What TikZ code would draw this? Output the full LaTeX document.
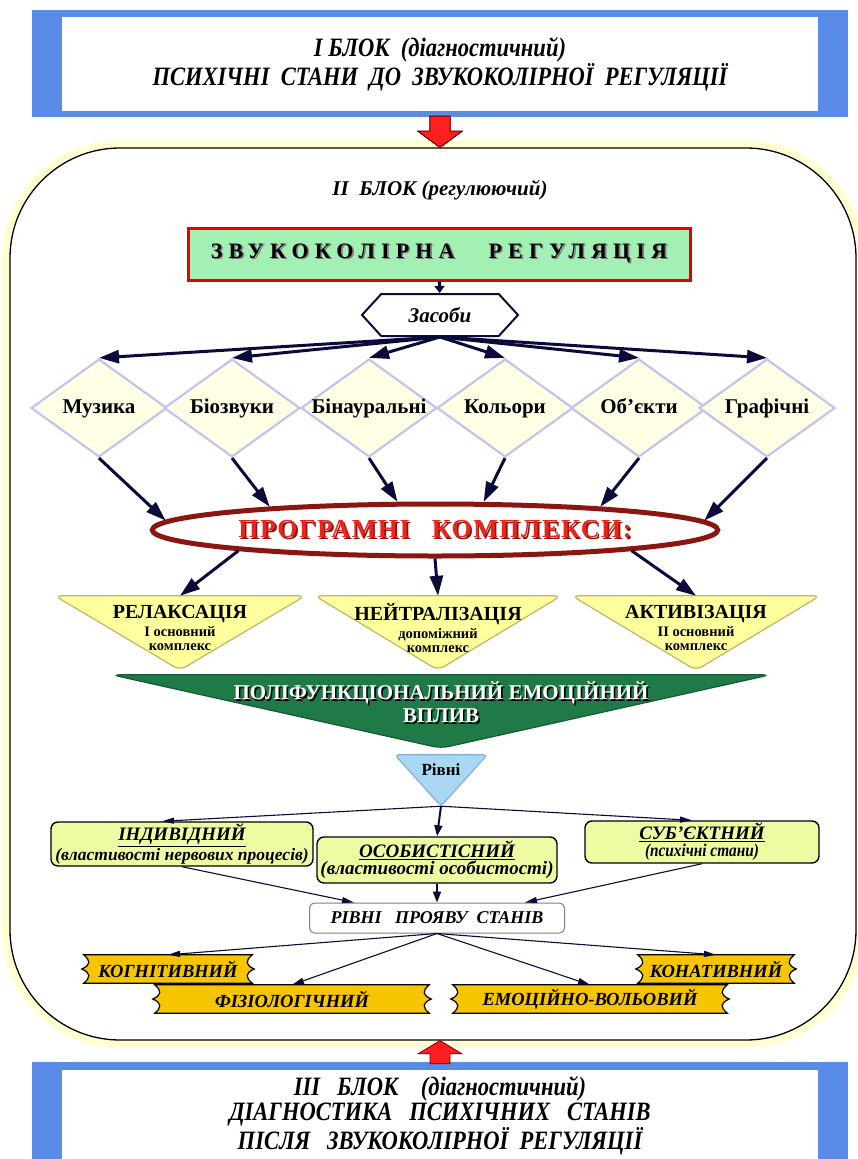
\documentclass[tikz,border=0pt]{standalone}
\usepackage{fontspec}
\setmainfont{Liberation Serif}
\newfontfamily\narrowfont[FakeStretch=0.85]{Liberation Serif}
\newfontfamily\spacedfont[LetterSpace=28]{Liberation Serif}
\newfontfamily\progfont[LetterSpace=6]{Liberation Serif}
\usetikzlibrary{arrows.meta,shapes.geometric,shapes.symbols,calc}

\definecolor{blockblue}{HTML}{5A8BE6}
\definecolor{arrowred}{HTML}{FF1F1F}
\definecolor{arrowedge}{HTML}{7A0000}
\definecolor{glowyellow}{HTML}{FFFFD2}
\definecolor{reggreen}{HTML}{A3F0B5}
\definecolor{regred}{HTML}{E60000}
\definecolor{navy}{HTML}{0B0B3B}
\definecolor{cream}{HTML}{FFFFE6}
\definecolor{lavender}{HTML}{C3C3EE}
\definecolor{darkred}{HTML}{8B1511}
\definecolor{progred}{HTML}{E8261E}
\definecolor{cmplxfill}{HTML}{FFFF9E}
\definecolor{cmplxedge}{HTML}{C2B56A}
\definecolor{polygreen}{HTML}{1F7A48}
\definecolor{polyedge}{HTML}{145A32}
\definecolor{rivblue}{HTML}{A8D8F4}
\definecolor{rivedge}{HTML}{8AAFD0}
\definecolor{lvlgreen}{HTML}{EEFBA3}
\definecolor{scrollgold}{HTML}{F6C500}

\pgfdeclarelayer{frame}
\pgfdeclarelayer{shapes}
\pgfsetlayers{frame,shapes,main}

\newcommand{\shadowed}[3]{\makebox[0pt][l]{\hspace{1.6pt}\raisebox{-1.6pt}{\color{#2}#3}}{\color{#1}#3}}
\newcommand{\funnel}[3]{\draw[#3] (#1.north west) -- (#1.north east) -- ($(#1.south)+(0,#2)$) -- cycle;}
\newcommand{\scrollband}[1]{%
  \draw[scrollshape] ($(#1.north west)+(-4,0)$) -- ($(#1.north east)+(4,0)$)
    .. controls ($(#1.north east)+(-3,6)$) and ($(#1.east)+(-3,-4)$) .. ($(#1.east)+(6,0)$)
    .. controls ($(#1.east)+(-3,4)$) and ($(#1.south east)+(-3,-6)$) .. ($(#1.south east)+(4,0)$)
    -- ($(#1.south west)+(-4,0)$)
    .. controls ($(#1.south west)+(3,-6)$) and ($(#1.west)+(3,4)$) .. ($(#1.west)+(-6,0)$)
    .. controls ($(#1.west)+(3,-4)$) and ($(#1.north west)+(3,6)$) .. cycle;}

\begin{document}
\begin{tikzpicture}[x=1pt,y=-1pt,
    blocktxt/.style={align=center,inner sep=0,minimum width=756,minimum height=94,
      font=\narrowfont\bfseries\itshape\fontsize{26.5}{27}\selectfont},
    regframe/.style={rectangle,rounded corners=110,draw=black,line width=1.3,fill=white,
      preaction={draw=glowyellow,line width=16}},
    regbox/.style={rectangle,draw=regred,line width=3,fill=reggreen,minimum width=502,minimum height=52,
      font=\spacedfont\bfseries\fontsize{22}{24}\selectfont},
    means/.style={signal,signal to=east and west,signal pointer angle=95,draw=navy,line width=2,fill=white,
      minimum width=156,minimum height=42,font=\bfseries\itshape\fontsize{21}{23}\selectfont},
    tool/.style={diamond,aspect=1.4,draw=lavender,line width=2.2,fill=cream,inner sep=0,
      text height=14pt,text depth=4pt,
      minimum width=136,minimum height=98,font=\bfseries\fontsize{21}{23}\selectfont},
    progbox/.style={ellipse,draw=darkred,line width=5,fill=white,minimum width=556,minimum height=52,
      font=\progfont\bfseries\fontsize{26}{28}\selectfont},
    cmplx/.style={align=center,inner sep=0,minimum width=250,minimum height=64,
      font=\bfseries\fontsize{14.5}{14}\selectfont},
    cmplxshape/.style={draw=cmplxedge,line width=1.2,fill=cmplxfill,rounded corners=7},
    polybox/.style={align=center,inner sep=0,minimum width=658,minimum height=56,
      font=\bfseries\fontsize{21}{23}\selectfont},
    polyshape/.style={draw=polyedge,line width=1.2,fill=polygreen,rounded corners=8},
    rivbox/.style={inner sep=0,minimum width=92,minimum height=30,font=\bfseries\fontsize{17}{19}\selectfont},
    rivshape/.style={draw=rivedge,line width=1.2,fill=rivblue,rounded corners=4},
    lvlbox/.style={rectangle,rounded corners=7,draw=black,line width=1.4,fill=lvlgreen,align=center,
      inner sep=1,font=\bfseries\itshape\fontsize{17.5}{17}\selectfont},
    probox/.style={rectangle,rounded corners=5,draw=gray,line width=1,fill=white,minimum width=255,minimum height=30,
      font=\bfseries\itshape\fontsize{18}{20}\selectfont},
    lvlscroll/.style={inner sep=0,minimum height=28,font=\bfseries\itshape\fontsize{18.5}{20}\selectfont},
    scrollshape/.style={draw=black,line width=1.2,fill=scrollgold},
    fatarrow/.style={draw=navy,line width=3,-{Triangle[length=20pt,width=13pt]}},
    shortarrow/.style={draw=navy,line width=3,-{Triangle[length=7pt,width=10pt]}},
    midarrow/.style={draw=navy,line width=2,-{Triangle[length=11pt,width=8pt]}},
    thinarrow/.style={draw=navy,line width=1.1,-{Triangle[length=12pt,width=6pt]}}]
\useasboundingbox (0,0) rectangle (858,1159);

\node[blocktxt] (blockI) at (440,64) {І\ БЛОК\ \ (діагностичний)\\ПСИХІЧНІ\ \ СТАНИ\ \ ДО\ \ ЗВУКОКОЛІРНОЇ\ \ РЕГУЛЯЦІЇ};
\node[blocktxt,minimum height=92,font=\narrowfont\bfseries\itshape\fontsize{26.5}{25}\selectfont] (blockIII) at (440,1116)
  {ІІІ\ \ \ БЛОК\ \ \ \ (діагностичний)\\ДІАГНОСТИКА\ \ \ ПСИХІЧНИХ\ \ \ СТАНІВ\\ПІСЛЯ\ \ \ ЗВУКОКОЛІРНОЇ\ \ РЕГУЛЯЦІЇ};

\begin{pgfonlayer}{frame}
  \fill[blockblue] ($(blockI.south west)+(-30,6)$) rectangle ($(blockI.north east)+(30,-7)$);
  \fill[white] (blockI.south west) rectangle (blockI.north east);
  \fill[blockblue] ($(blockIII.north west)+(-30,-8)$) rectangle ($(blockIII.south east)+(30,20)$);
  \fill[white] (blockIII.north west) rectangle ($(blockIII.south east)+(0,20)$);
  \node[regframe,minimum width=846,minimum height=892] (blockII) at (433,594) {};
\end{pgfonlayer}

\node[font=\bfseries\itshape\fontsize{21}{23}\selectfont] (titleII) at (440,190) {ІІ\ \ БЛОК (регулюючий)};
\node[regbox] (reg) at (439,254) {\shadowed{black}{gray}{ЗВУКОКОЛІРНА}\hspace{34pt}\shadowed{black}{gray}{РЕГУЛЯЦІЯ}};
\node[means] (zasoby) at (440,315) {Засоби};
\draw[shortarrow] (reg) -- (zasoby);

\foreach \n/\x/\t in {muz/99/Музика,bio/232/Біозвуки,bin/369/Бінауральні,kol/505/Кольори,obj/639/Об’єкти,graf/767/Графічні}
  \node[tool] (\n) at (\x,408) {\makebox[60pt]{\t}};

\node[progbox] (progr) at (435,530) {\shadowed{progred}{darkred}{ПРОГРАМНІ}\hspace{22pt}\shadowed{progred}{darkred}{КОМПЛЕКСИ:}};

\foreach \n in {muz,bio,bin,kol,obj,graf}
  \draw[fatarrow] (zasoby.south) -- (\n.north);
\foreach \n/\a in {muz/178,bio/172,bin/143,kol/30,obj/8,graf/2}
  \draw[fatarrow] (\n.south) -- (progr.\a);

\node[cmplx] (rel) at (180,628) {{\fontsize{20}{20}\selectfont РЕЛАКСАЦІЯ}\\[3pt]І основний\\комплекс};
\node[cmplx,minimum width=246] (neut) at (438,628) {{\fontsize{20}{20}\selectfont НЕЙТРАЛІЗАЦІЯ}\\[3pt]допоміжний\\комплекс};
\node[cmplx,minimum width=248] (akt) at (696,628) {{\fontsize{20}{20}\selectfont АКТИВІЗАЦІЯ}\\[3pt]ІІ основний\\комплекс};
\draw[fatarrow] (progr.186) -- (rel.north);
\draw[fatarrow] (progr.south) -- (neut.north);
\draw[fatarrow] (progr.354) -- (akt.north);

\node[polybox] (polyf) at (441,703) {\shadowed{white}{black}{ПОЛІФУНКЦІОНАЛЬНИЙ ЕМОЦІЙНИЙ}\\\shadowed{white}{black}{ВПЛИВ}};
\node[rivbox] (rivni) at (441,770) {Рівні};
\coordinate (rivtip) at ($(rivni.south)+(0,21)$);

\node[lvlbox,minimum width=262,minimum height=44] (ind) at (182,844)
  {\underline{{\fontsize{19}{19}\selectfont ІНДИВІДНИЙ}}\\(властивості нервових процесів)};
\node[lvlbox,minimum width=240,minimum height=46] (osob) at (437,860)
  {\underline{{\fontsize{19}{19}\selectfont ОСОБИСТІСНИЙ}}\\{\fontsize{19}{17}\selectfont(властивості особистості)}};
\node[lvlbox,minimum width=234,minimum height=42] (sub) at (702,842)
  {\underline{{\fontsize{19}{19}\selectfont СУБ'ЄКТНИЙ}}\\{\narrowfont\fontsize{18}{17}\selectfont(психічні стани)}};
\draw[thinarrow] (rivtip) -- ($(ind.north)+(-20,0)$);
\draw[midarrow] (rivtip) -- (osob.north);
\draw[thinarrow] (rivtip) -- ($(sub.north)+(-10,0)$);

\node[probox] (pro) at (437,918) {РІВНІ\ \ \ ПРОЯВУ\ \ СТАНІВ};
\draw[thinarrow] (ind.south) -- ($(pro.north west)+(45,0)$);
\draw[midarrow] (osob.south) -- (pro.north);
\draw[thinarrow] (sub.south) -- ($(pro.north east)+(-40,0)$);

\node[lvlscroll,minimum width=160] (kog) at (168,969) {КОГНІТИВНИЙ};
\node[lvlscroll,minimum width=148] (kon) at (716,969) {КОНАТИВНИЙ};
\node[lvlscroll,minimum width=266] (fiz) at (292,999) {ФІЗІОЛОГІЧНИЙ};
\node[lvlscroll,minimum width=266] (emo) at (590,999) {ЕМОЦІЙНО-ВОЛЬОВИЙ};
\foreach \n in {kog,fiz,emo,kon}
  \draw[thinarrow] (pro.south) -- (\n.north);

\begin{pgfonlayer}{shapes}
  \funnel{rel}{10}{cmplxshape}
  \funnel{neut}{10}{cmplxshape}
  \funnel{akt}{10}{cmplxshape}
  \funnel{polyf}{17}{polyshape}
  \funnel{rivni}{21}{rivshape}
  \foreach \n in {kog,kon,fiz,emo}
    \scrollband{\n}
  \filldraw[fill=arrowred,draw=arrowedge,line width=0.8]
    ($(blockI.south)+(-10,5)$) -- ($(blockI.south)+(10,5)$) -- ($(blockI.south)+(10,20)$) -- ($(blockI.south)+(22,20)$)
    -- (blockI.south |- blockII.north) -- ($(blockI.south)+(-22,20)$) -- ($(blockI.south)+(-10,20)$) -- cycle;
  \filldraw[fill=arrowred,draw=arrowedge,line width=0.8]
    ($(blockIII.north)+(-10,-6)$) -- ($(blockIII.north)+(10,-6)$) -- ($(blockIII.north)+(10,-16)$) -- ($(blockIII.north)+(22,-16)$)
    -- (blockIII.north |- blockII.south) -- ($(blockIII.north)+(-22,-16)$) -- ($(blockIII.north)+(-10,-16)$) -- cycle;
\end{pgfonlayer}
\end{tikzpicture}
\end{document}
